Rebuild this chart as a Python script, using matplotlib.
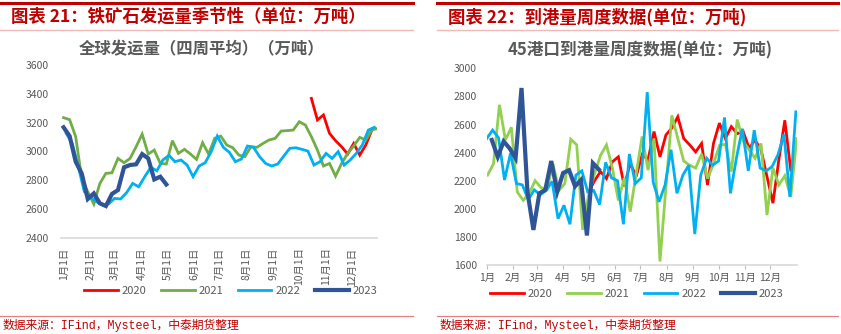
import matplotlib

matplotlib.use("Agg")
import matplotlib.pyplot as plt
import numpy as np
from matplotlib.lines import Line2D

plt.rcParams["font.family"] = ["Noto Sans CJK SC", "DejaVu Sans"]

W, H = 841, 334

YEARS = ["2020", "2021", "2022", "2023"]

# global iron ore shipments, 4-week average (万吨), weekly
ship_2020 = [3368, 3218, 3253, 3125, 3074, 3032, 2981, 3055, 2974, 3044, 3148]
ship_2021 = [3234, 3220, 3102, 2812, 2720, 2634, 2777, 2847, 2851, 2951,
             2921, 2951, 3032, 3120, 2981, 3009, 2916, 2912, 3074, 2986,
             3014, 2981, 2944, 3060, 2981, 3090, 3106, 3044, 3025, 2974,
             2963, 3032, 3028, 3055, 3079, 3090, 3141, 3144, 3148, 3206,
             3183, 3102, 3009, 2898, 2916, 2828, 2916, 2986, 3037, 3097,
             3079, 3148, 3160]
ship_2022 = [3125, 3055, 2893, 2720, 2685, 2650, 2627, 2634, 2673, 2669,
             2713, 2777, 2754, 2824, 2889, 2865, 2940, 2972, 2928, 2940,
             2905, 2824, 2898, 2921, 2998, 3106, 3028, 2993, 2928, 2947,
             3037, 3028, 2963, 2916, 2898, 2912, 2967, 3021, 3025, 3014,
             3002, 2905, 2928, 2986, 2951, 2998, 2905, 2940, 2986, 3044,
             3148, 3167]
ship_2023 = [3167, 3106, 2928, 2847, 2669, 2708, 2639, 2620, 2704, 2731,
             2889, 2905, 2910, 2981, 2951, 2805, 2824, 2770]
ship_start = [287, 0, 3, 0]  # day of year of first weekly point

# 45-port arrivals (万吨), weekly
arr_2020 = [2120, 2200, 2265, 2215, 2335, 2370, 2160, 2325, 2230, 2385,
            2350, 2550, 2370, 2525, 2575, 2655, 2500, 2455, 2405, 2465,
            2170, 2465, 2610, 2500, 2585, 2535, 2550, 2430, 2490, 2420,
            2230, 2040, 2350, 2630, 2275]
arr_2021 = [2240, 2320, 2740, 2490, 2580, 2120, 2060, 2110, 2200, 2150,
            2140, 2320, 2130, 2180, 2495, 2455, 1850, 2100, 2250, 2380,
            2455, 2290, 2060, 2220, 1980, 2250, 2515, 2275, 2500, 1625,
            2150, 2665, 2500, 2340, 2310, 2290, 2390, 2215, 2320, 2450,
            2460, 2265, 2635, 2480, 2420, 2360, 2465, 1955, 2290, 2170,
            2235, 2085, 2500]
arr_2022 = [2500, 2560, 2505, 2205, 2395, 2180, 2170, 2065, 2135, 2100,
            2130, 2195, 1930, 2025, 1890, 2240, 2270, 2120, 2130, 2030,
            2330, 2220, 2200, 1890, 2390, 2180, 2220, 2830, 2190, 2050,
            2170, 2420, 2110, 2240, 2310, 1820, 2240, 2360, 2310, 2340,
            2650, 2110, 2360, 2570, 2270, 2560, 2290, 2270, 2300, 2385,
            2530, 2085, 2690]
arr_2023 = [2490, 2370, 2480, 2430, 2360, 2860, 2120, 1850, 2110, 2135,
            2340, 2120, 2255, 2275, 2160, 2205, 1810, 2325, 2280]
arr_start = [120, 1, 0, 6]

month_days = [0, 31, 59, 90, 120, 151, 181, 212, 243, 273, 304, 334]
left_xlabels = [f"{m}月1日" for m in range(1, 13)]
right_xlabels = [f"{m}月" for m in range(1, 13)]

RED = "#C00000"
GRAY = "#595959"


def px_axes(fig, x0, y0, x1, y1):
    return fig.add_axes([x0 / W, 1 - y1 / H, (x1 - x0) / W, (y1 - y0) / H])


def hline(fig, x0, x1, y, color, lw):
    fig.add_artist(Line2D([x0 / W, x1 / W], [1 - y / H, 1 - y / H],
                          transform=fig.transFigure, color=color, lw=lw))


def ftext(fig, x, y, s, **kw):
    fig.text(x / W, 1 - y / H, s, **kw)


def weeks(start, values):
    return start + 7 * np.arange(len(values))


fig = plt.figure(figsize=(W / 100, H / 100), dpi=100)

# ---- headers / footers ----
for x0, x1, tx, title in [(0, 413, 11, "图表 21：铁矿石发运量季节性（单位：万吨）"),
                          (437, 838, 448, "图表 22：到港量周度数据(单位：万吨)")]:
    hline(fig, x0, x1, 2.5, RED, 2.2)
    hline(fig, x0, x1, 29.5, "#F2B8B8", 1.0)
    hline(fig, x0, x1, 316, "#E58080", 0.9)
    ftext(fig, tx, 17, title, color=RED, fontsize=12.5, fontweight="bold",
          va="center", ha="left")
    ftext(fig, x0 + 3, 325, "数据来源：IFind，Mysteel，中泰期货整理", color=RED,
          fontsize=8.5, va="center", ha="left",
          family=["Liberation Mono", "Noto Sans CJK SC"])

ftext(fig, 202, 49, "全球发运量（四周平均）（万吨）", color=GRAY, fontsize=11.8,
      fontweight="bold", ha="center", va="center")
ftext(fig, 640, 50, "45港口到港量周度数据(单位：万吨)", color=GRAY, fontsize=12,
      fontweight="bold", ha="center", va="center")

# ---- left chart ----
left_colors = ["#FF0000", "#70AD47", "#00B0F0", "#2F5597"]
widths = [2.0, 2.0, 2.0, 3.0]
ax = px_axes(fig, 61, 65, 377, 237.7)
for yr, vals, st, c, lw in zip(YEARS, [ship_2020, ship_2021, ship_2022, ship_2023],
                               ship_start, left_colors, widths):
    ax.plot(weeks(st, vals), vals, color=c, lw=lw, label=yr,
            solid_joinstyle="miter")
ax.set_xlim(-3, 363)
ax.set_ylim(2400, 3600)
ax.set_yticks(np.arange(2400, 3601, 200))
ax.set_xticks(month_days, labels=left_xlabels, rotation=90)
ax.tick_params(axis="both", length=0, labelsize=7.5, labelcolor=GRAY)
ax.tick_params(axis="y", pad=9)
ax.tick_params(axis="x", pad=7)
for s in ["top", "right", "left"]:
    ax.spines[s].set_visible(False)
ax.spines["bottom"].set_color("#D9D9D9")
ax.spines["bottom"].set_linewidth(1.2)
ax.legend(loc="center", bbox_to_anchor=(231 / W, 1 - 291 / H),
          bbox_transform=fig.transFigure, ncol=4, frameon=False, fontsize=8,
          handlelength=3.0, handletextpad=0.4, columnspacing=1.3,
          labelcolor=GRAY)

# ---- right chart ----
right_colors = ["#FF0000", "#92D050", "#00B0F0", "#2F5597"]
ax2 = px_axes(fig, 486.7, 68.3, 796.7, 265)
for yr, vals, st, c, lw in zip(YEARS, [arr_2020, arr_2021, arr_2022, arr_2023],
                               arr_start, right_colors, widths):
    ax2.plot(weeks(st, vals), vals, color=c, lw=lw, label=yr,
             solid_joinstyle="miter")
ax2.set_xlim(0, 365)
ax2.set_ylim(1600, 3000)
ax2.set_yticks(np.arange(1600, 3001, 200))
ax2.set_xticks(month_days, labels=right_xlabels)
ax2.tick_params(axis="both", labelsize=7.5, labelcolor=GRAY)
ax2.tick_params(axis="y", length=0, pad=7)
ax2.tick_params(axis="x", length=3, color="#BFBFBF", pad=3)
for s in ["top", "right", "left"]:
    ax2.spines[s].set_visible(False)
ax2.spines["bottom"].set_color("#D9D9D9")
ax2.spines["bottom"].set_linewidth(1.2)
ax2.legend(loc="center", bbox_to_anchor=(637 / W, 1 - 294 / H),
           bbox_transform=fig.transFigure, ncol=4, frameon=False, fontsize=8,
           handlelength=3.0, handletextpad=0.4, columnspacing=1.3,
           labelcolor=GRAY)

fig.savefig("out.png", dpi=100)
plt.close(fig)
